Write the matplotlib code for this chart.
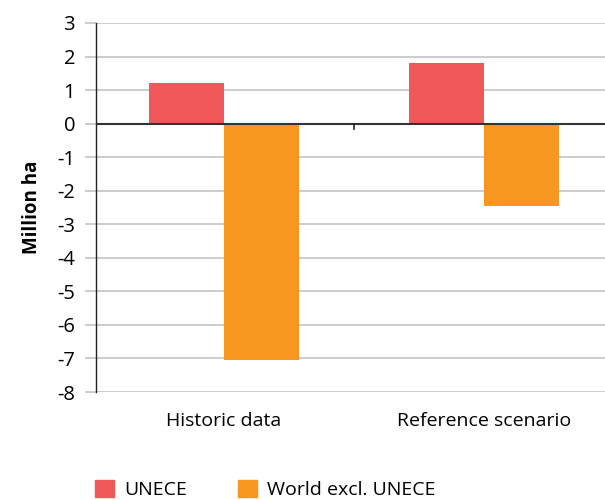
import matplotlib
matplotlib.use("Agg")
import matplotlib.pyplot as plt
import numpy as np
from matplotlib.patches import Patch

categories = ["Historic data", "Reference scenario"]
series_names = ["UNECE", "World excl. UNECE"]
unece = [1.2, 1.8]
world_excl = [-7.05, -2.45]
colors = ["#F05759", "#F7971F"]
yticks = list(range(-8, 4))

plt.rcParams['font.family'] = ['Open Sans', 'DejaVu Sans']

fig = plt.figure(figsize=(6.05, 4.99), dpi=100)
ax = fig.add_axes([96/605, 1-392/499, 1-96/605, (392-23)/499])

x = np.arange(len(categories))
w = 0.288
ax.bar(x - w/2, unece, w, color=colors[0], zorder=3)
ax.bar(x + w/2, world_excl, w, color=colors[1], zorder=3)

ax.set_xlim(-0.492, 1.465)
ax.set_ylim(-8, 3)
ax.set_yticks(yticks)
ax.set_yticklabels([str(t) for t in yticks], fontsize=14.5)
ax.yaxis.grid(True, color="#c8c8c8", linewidth=1.3, zorder=0)
ax.tick_params(axis='y', length=8, color="#c8c8c8", width=1.3, pad=7)
ax.set_xticks([])
for s in ["top", "right", "bottom"]:
    ax.spines[s].set_visible(False)
ax.spines["left"].set_color("#222222")
ax.spines["left"].set_linewidth(1.0)
ax.axhline(0, color="#333333", linewidth=1.5, zorder=4)
# category separator tick on the zero line
ax.plot([0.5, 0.5], [0, -0.17], color="#222222", linewidth=1.2, zorder=4, clip_on=False)

for xi, c in zip(x, categories):
    ax.text(xi, -8.6, c, ha="center", va="top", fontsize=14)

ax.set_ylabel("Million ha", fontsize=13.5, fontweight="bold", labelpad=11)

handles = [Patch(color=colors[0], label=series_names[0]),
           Patch(color=colors[1], label=series_names[1])]
fig.legend(handles=handles, loc="lower left", bbox_to_anchor=(95/605, 0),
           ncol=2, frameon=False, fontsize=14, handlelength=1.0, handleheight=1.0,
           columnspacing=2.6, handletextpad=0.5, borderpad=0, borderaxespad=0)

fig.savefig("out.png", dpi=100)
